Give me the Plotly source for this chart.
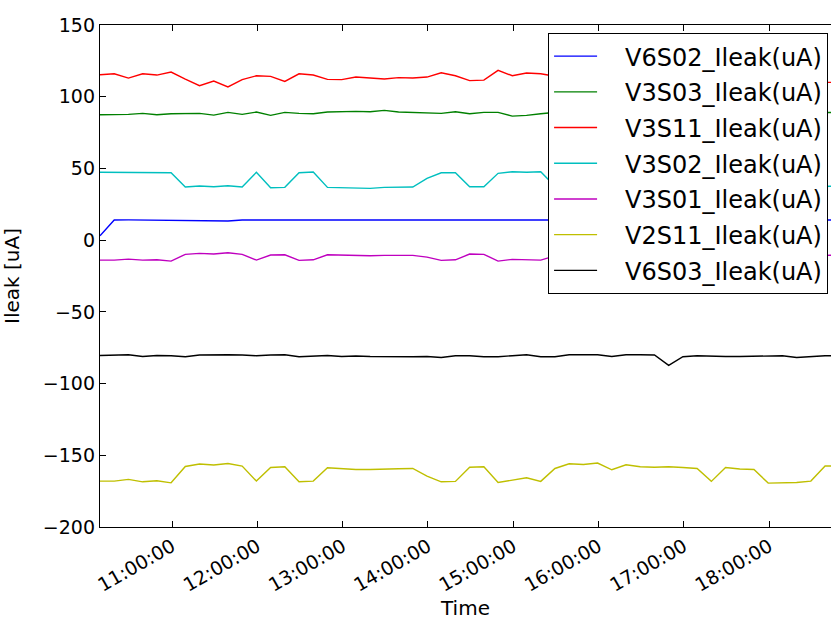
import plotly.graph_objects as go

# --- sampled leakage currents (uA), one reading about every 10 minutes ---
times = [
    "2016-05-10 10:09:20", "2016-05-10 10:19:20", "2016-05-10 10:29:20", "2016-05-10 10:39:20",
    "2016-05-10 10:49:20", "2016-05-10 10:59:20", "2016-05-10 11:09:20", "2016-05-10 11:19:20",
    "2016-05-10 11:29:20", "2016-05-10 11:39:20", "2016-05-10 11:49:20", "2016-05-10 11:59:20",
    "2016-05-10 12:09:20", "2016-05-10 12:19:20", "2016-05-10 12:29:20", "2016-05-10 12:39:20",
    "2016-05-10 12:49:20", "2016-05-10 12:59:20", "2016-05-10 13:09:20", "2016-05-10 13:19:20",
    "2016-05-10 13:29:20", "2016-05-10 13:39:20", "2016-05-10 13:49:20", "2016-05-10 13:59:20",
    "2016-05-10 14:09:20", "2016-05-10 14:19:20", "2016-05-10 14:29:20", "2016-05-10 14:39:20",
    "2016-05-10 14:49:20", "2016-05-10 14:59:20", "2016-05-10 15:09:20", "2016-05-10 15:19:20",
    "2016-05-10 15:29:20", "2016-05-10 15:39:20", "2016-05-10 15:49:20", "2016-05-10 15:59:20",
    "2016-05-10 16:09:20", "2016-05-10 16:19:20", "2016-05-10 16:29:20", "2016-05-10 16:39:20",
    "2016-05-10 16:49:20", "2016-05-10 16:59:20", "2016-05-10 17:09:20", "2016-05-10 17:19:20",
    "2016-05-10 17:29:20", "2016-05-10 17:39:20", "2016-05-10 17:49:20", "2016-05-10 17:59:20",
    "2016-05-10 18:09:20", "2016-05-10 18:19:20", "2016-05-10 18:29:20", "2016-05-10 18:39:20",
    "2016-05-10 18:49:20",
]

v6s02 = [3.0, 14.0, 14.1, 14.0, 13.9, 13.9, 13.8, 13.8, 13.7, 13.3, 14.0, 14.0, 13.9, 13.8,
         14.0, 14.0, 14.1, 14.0, 13.9, 13.8, 13.8, 13.9, 14.0, 14.1, 14.2, 14.0, 13.8, 13.8,
         13.9, 14.0, 14.0, 14.0, 14.0, 13.9, 14.0, 14.1, 14.0, 13.9, 14.0, 14.0, 14.1, 14.0,
         13.9, 14.0, 14.0, 14.1, 14.0, 13.9, 14.0, 14.0, 14.0, 14.1, 14.0]
v3s03 = [87.4, 87.4, 87.7, 88.4, 87.4, 88.1, 88.4, 88.4, 87.2, 89.1, 87.7, 89.3, 87.0, 89.1,
         88.4, 88.1, 89.3, 89.8, 89.8, 89.5, 90.5, 89.3, 89.1, 88.6, 88.4, 89.5, 88.1, 89.1,
         89.1, 86.5, 87.0, 88.1, 89.0, 90.0, 89.5, 88.7, 89.2, 90.0, 89.0, 88.5, 89.0, 89.5,
         88.8, 89.3, 89.0, 88.6, 89.4, 89.0, 88.8, 89.2, 89.5, 89.0, 89.0]
v3s11 = [115.3, 116.0, 113.0, 116.0, 115.1, 117.2, 112.3, 107.7, 110.9, 106.8, 111.9, 114.6,
         114.2, 110.7, 116.0, 115.1, 112.1, 111.9, 113.7, 113.0, 112.3, 113.3, 113.0, 113.7,
         116.7, 114.6, 111.2, 111.6, 118.4, 114.6, 116.5, 116.0, 114.0, 112.5, 113.0, 115.0,
         114.0, 112.0, 113.5, 115.0, 113.0, 112.0, 114.0, 115.5, 113.0, 112.0, 114.0, 113.0,
         112.5, 111.0, 110.0, 110.0, 110.0]
v3s02 = [47.3, 47.3, 47.5, 47.3, 47.3, 47.0, 37.0, 37.7, 37.2, 37.9, 37.0, 47.3, 36.5, 36.8,
         47.0, 47.5, 36.8, 36.5, 36.3, 36.1, 36.8, 37.0, 37.0, 43.1, 47.0, 47.0, 37.2, 37.2,
         46.6, 47.7, 47.3, 47.7, 37.5, 37.0, 36.8, 47.0, 46.8, 37.2, 37.0, 37.5, 47.2, 47.0,
         37.3, 37.0, 36.8, 37.1, 46.9, 47.2, 37.4, 37.0, 37.2, 37.5, 37.7]
v3s01 = [-13.9, -13.9, -13.2, -13.9, -13.7, -14.6, -9.9, -9.2, -9.7, -8.8, -9.9, -13.9, -10.4,
         -10.2, -14.1, -13.7, -10.2, -10.4, -11.1, -10.9, -10.6, -10.6, -10.6, -11.8, -14.1,
         -13.7, -9.7, -9.9, -14.6, -13.4, -13.9, -13.9, -11.0, -10.2, -10.5, -13.8, -14.0,
         -10.1, -10.4, -10.0, -13.9, -14.2, -10.3, -10.1, -10.6, -10.4, -13.7, -14.0, -10.2,
         -10.5, -10.3, -10.6, -10.4]
v2s11 = [-168.0, -168.0, -166.8, -168.5, -167.8, -169.2, -157.8, -156.1, -156.8, -155.7,
         -157.5, -168.0, -158.5, -158.0, -168.5, -168.0, -158.7, -159.4, -159.9, -159.9,
         -159.4, -159.4, -159.2, -164.5, -168.5, -168.2, -158.3, -158.0, -169.0, -167.1,
         -165.7, -168.2, -159.2, -155.9, -156.4, -155.4, -160.1, -156.6, -158.0, -158.3,
         -158.0, -158.5, -159.2, -168.2, -158.5, -159.6, -159.9, -169.4, -169.2, -169.0,
         -168.0, -157.5, -157.5]
v6s03 = [-80.4, -80.4, -79.9, -81.1, -80.4, -80.6, -81.3, -80.1, -79.9, -79.9, -80.1, -80.6,
         -80.1, -79.9, -81.3, -80.8, -80.4, -81.1, -80.8, -81.1, -81.3, -81.3, -81.3, -81.1,
         -81.8, -80.6, -80.6, -81.3, -81.3, -80.6, -79.9, -81.3, -81.3, -79.9, -79.9, -79.9,
         -81.1, -79.9, -79.9, -80.1, -87.3, -81.3, -80.6, -81.1, -81.1, -81.1, -81.1, -81.1,
         -80.6, -81.8, -81.1, -80.6, -80.6]

series = [
    ("V6S02_Ileak(uA)", v6s02, "#0000ff"),
    ("V3S03_Ileak(uA)", v3s03, "#008000"),
    ("V3S11_Ileak(uA)", v3s11, "#ff0000"),
    ("V3S02_Ileak(uA)", v3s02, "#00bfbf"),
    ("V3S01_Ileak(uA)", v3s01, "#bf00bf"),
    ("V2S11_Ileak(uA)", v2s11, "#bfbf00"),
    ("V6S03_Ileak(uA)", v6s03, "#000000"),
]

fig = go.Figure()
for name, vals, color in series:
    # a few non-breaking spaces keep the gap between legend line and label
    fig.add_trace(go.Scatter(x=times, y=vals, mode="lines", name="\u00a0\u00a0\u00a0" + name,
                             legendgroup=name, line=dict(color=color, width=1.4)))

tick_font = dict(family="DejaVu Sans", size=19, color="black")
title_font = dict(family="DejaVu Sans", size=20, color="black")
fig.update_layout(
    width=831, height=620,
    margin=dict(l=100, r=0, t=25, b=93, autoexpand=False),
    paper_bgcolor="white", plot_bgcolor="white",
    font=dict(family="DejaVu Sans", color="black"),
    xaxis=dict(
        type="date", range=["2016-05-10 10:09:20", "2016-05-10 18:43:30"],
        tick0="2016-05-10 11:00:00", dtick=3600000, tickformat="%H:%M:%S",
        tickangle=-30, ticks="inside", ticklen=6, tickcolor="black",
        showline=True, linecolor="black", linewidth=1.3, mirror="ticks",
        showgrid=False, zeroline=False, tickfont=tick_font, automargin=False,
        title=dict(text="Time", font=title_font, standoff=9),
    ),
    yaxis=dict(
        range=[-200, 150], dtick=50, ticks="inside", ticklen=6, tickcolor="black",
        showline=True, linecolor="black", linewidth=1.3, mirror=False,
        showgrid=False, zeroline=False, tickfont=tick_font, automargin=False,
        title=dict(text="Ileak [uA]", font=title_font, standoff=18),
    ),
    legend=dict(
        x=0.996, y=0.984, xanchor="right", yanchor="top",
        bgcolor="white", bordercolor="black", borderwidth=1,
        font=dict(family="DejaVu Sans", size=24, color="black"),
        tracegroupgap=1.5, itemwidth=43,
    ),
)

# drop the default page margin so the 831x620 figure fills the window exactly
fig.write_html("out.html", config={"displayModeBar": False},
               post_script="document.body.style.margin='0';")
